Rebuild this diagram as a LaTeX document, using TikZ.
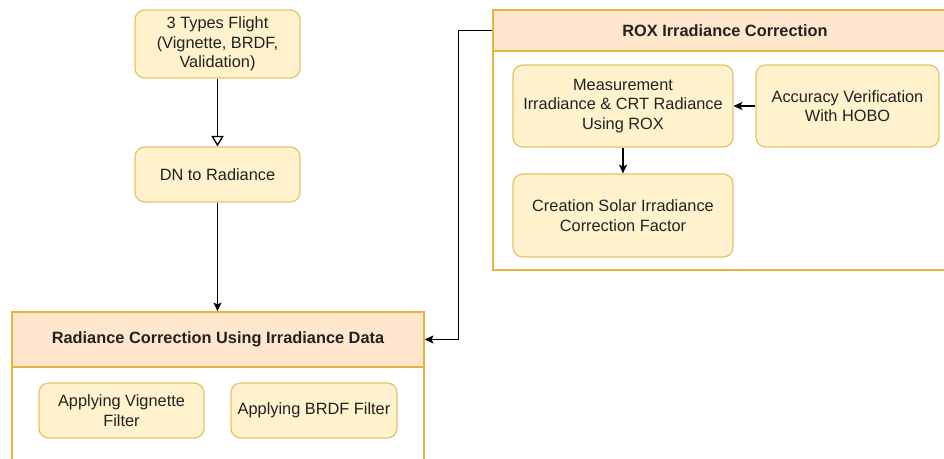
\documentclass[tikz,border=0pt]{standalone}
\usepackage{fontspec}
\setmainfont{Liberation Sans}
\usepackage{tikz}
\usetikzlibrary{arrows.meta,positioning}
\definecolor{boxfill}{HTML}{FFF2CC}
\definecolor{boxline}{HTML}{E2C46C}
\definecolor{headfill}{HTML}{FFE6CC}
\definecolor{groupline}{HTML}{E6B43E}
\definecolor{txt}{HTML}{222222}

\begin{document}
\begin{tikzpicture}[
    x=0.02cm, y=-0.02cm,
    >={Stealth[length=5pt,width=4.6pt,inset=1.2pt]},
    font=\fontsize{9.3}{11.1}\selectfont,
    text=txt,
    block/.style={
		rectangle,
		rounded corners=5.5pt,
		draw=boxline,
		line width=0.7pt,
		fill=boxfill,
		align=center,
		inner sep=2pt
	},
	grouphead/.style={
		rectangle,
		draw=groupline,
		line width=0.9pt,
		fill=headfill,
		font=\fontsize{9.3}{11.1}\selectfont\bfseries
	},
	groupbody/.style={
		rectangle,
		draw=groupline,
		line width=0.9pt,
		fill=white
	},
	link/.style={
		draw=black,
		line width=0.75pt
	}
  ]
  \useasboundingbox (0,0) rectangle (944,459);
  \clip (0,0) rectangle (944,459);

    % the two groups first
  \node [groupbody, minimum width=8.24cm, minimum height=2.6cm] (radbody) at (218,432) {};
  \node [grouphead, minimum width=8.24cm, minimum height=1.1cm] (radhead) at (218,339.5)
    {Radiance Correction Using Irradiance Data};

  \node [groupbody, minimum width=9.28cm, minimum height=4.38cm] (roxbody) at (725,160.5) {};
  \node [grouphead, minimum width=9.28cm, minimum height=0.82cm] (roxhead) at (725,30.5)
    {ROX Irradiance Correction};

    % then the blocks
  \node [block, minimum width=3.3cm, minimum height=1.36cm] (flight) at (217.5,44)
    {3 Types Flight\\(Vignette, BRDF,\\Validation)};
  \node [block, minimum width=3.3cm, minimum height=1.1cm] (dn) at (217.5,174.5)
    {DN to Radiance};

  \node [block, minimum width=3.3cm, minimum height=1.1cm] (vignette) at (121.5,410.5)
    {Applying Vignette\\Filter};
  \node [block, minimum width=3.32cm, minimum height=1.1cm] (brdf) at (314,410.5)
    {Applying BRDF Filter};

  \node [block, minimum width=4.4cm, minimum height=1.64cm] (measure) at (623,106)
    {Measurement\\Irradiance \& CRT Radiance\\Using ROX};
  \node [block, minimum width=3.66cm, minimum height=1.64cm] (hobo) at (847.5,106)
    {Accuracy Verification\\With HOBO};
  \node [block, minimum width=4.4cm, minimum height=1.66cm] (solar) at (623,215.5)
    {Creation Solar Irradiance\\Correction Factor};

    % connectors
  \draw [link,-{Triangle[open,length=6pt,width=7pt]}] (flight) -- (dn);
  \draw [link,->] (dn.south) -- (dn.south |- radhead.north);
  \draw [link,->] (roxhead.west) -- ++(-34,0) |- (radhead.east);
  \draw [link,->] (hobo) -- (measure);
  \draw [link,->] (measure) -- (solar);

\end{tikzpicture}
\end{document}
